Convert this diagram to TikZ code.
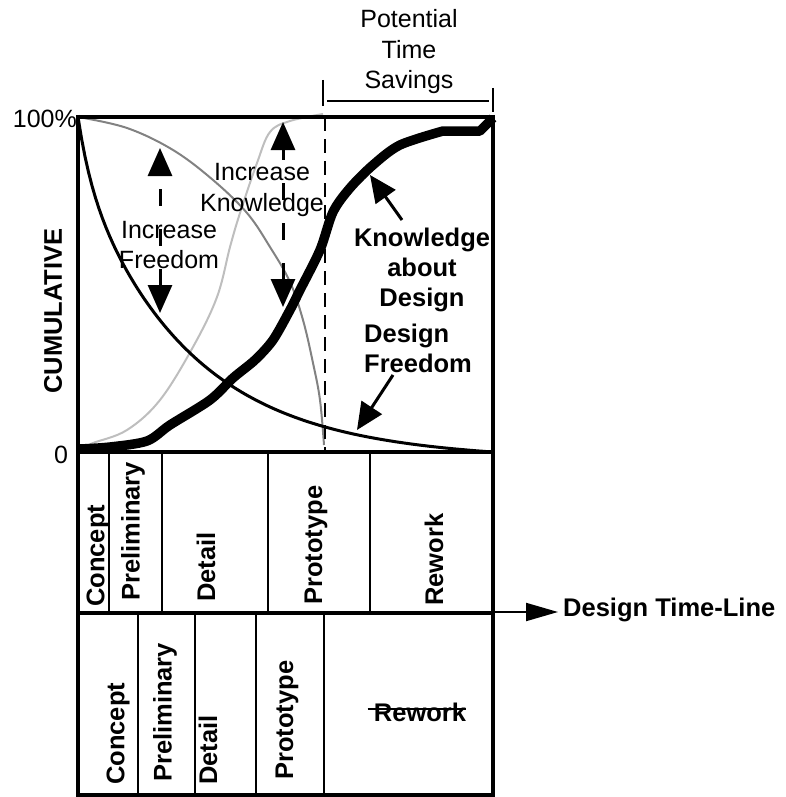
\documentclass[tikz,border=0pt]{standalone}
\usepackage{fontspec}
\setmainfont{Liberation Sans}
\usetikzlibrary{arrows.meta}
\definecolor{midgray}{RGB}{130,130,130}
\definecolor{lightgray}{RGB}{190,190,190}
\begin{document}
\begin{tikzpicture}[x=1pt,y=-1pt,
  lbl/.style={inner sep=0pt,font=\fontsize{25}{30.5}\selectfont},
  blbl/.style={inner sep=0pt,font=\fontsize{25.5}{30}\selectfont\bfseries},
  vlbl/.style={blbl,rotate=90,anchor=west},
  frameline/.style={line width=4.5pt},
  divider/.style={line width=2.8pt},
  dblarrow/.style={line width=3pt,dash pattern=on 17pt off 23pt,{Triangle[length=28pt,width=24pt]}-{Triangle[length=28pt,width=24pt]}},
  pointer/.style={line width=3pt,-{Triangle[length=27pt,width=24pt]}}
]
\useasboundingbox (0,0) rectangle (786,797);

% curves
\draw[midgray,line width=2pt] plot[smooth,tension=0.6] coordinates {
  (78,117) (127,128) (173,150) (213,180) (247,213) (270,247) (290,282)
  (303,320) (313,363) (320,400) (324,445)};
\draw[lightgray,line width=2pt] plot[smooth,tension=0.6] coordinates {
  (82,448) (93,443) (127,430) (160,400) (193,347) (217,297) (230,247)
  (240,213) (257,163) (270,132) (290,121) (323,114)};
% design freedom: decays from 100% to 0
\draw[line width=3pt] plot[domain=0:415,samples=120]
  ({78+\x},{452-335*(0.15*exp(-0.08*\x)+0.85*exp(-0.0093*\x)-0.018*\x/415)});
% knowledge about design
\draw[line width=9.5pt,line join=round] plot[smooth,tension=0.5] coordinates {
  (80,449) (110,447) (147,441) (170,425) (210,400) (233,378) (255,360)
  (273,340) (290,310) (300,290) (320,250) (333,212) (350,188) (373,165)
  (400,145) (443,131)} -- (480,131) -- (493,118);

% time savings marker
\draw[line width=2.5pt,dash pattern=on 14pt off 8pt] (325,117) -- (325,452);
\draw[line width=2.5pt] (323,80) -- (323,106);
\draw[line width=2.5pt] (327,101) -- (489,101);
\draw[line width=2.5pt] (493,88) -- (493,112);

% frame and phase tables
\draw[frameline] (78,117) -- (493,117);
\draw[frameline] (78,115) -- (78,797);
\draw[frameline] (493,115) -- (493,797);
\draw[frameline] (76,452) -- (495,452);
\draw[frameline] (76,613) -- (495,613);
\draw[frameline] (76,795) -- (495,795);
\foreach \xx in {109,162,268,370} \draw[divider] (\xx,452) -- (\xx,613);
\foreach \xx in {138,195,256,324} \draw[divider] (\xx,613) -- (\xx,793);

% axis labels
\node[blbl,rotate=90] (cum) at (53,311) {CUMULATIVE};
\node[lbl,anchor=east] (hund) at (77,119) {100\%};
\node[lbl] (zero) at (61,455) {0};

% top bracket label
\node[lbl,align=center] (pts) at (409,52) {Potential\\Time\\Savings};

% increase arrows
\coordinate (fup) at (160,148);
\coordinate (fdn) at (160,313);
\coordinate (kup) at (283,122);
\coordinate (kdn) at (283,307);
\draw[dblarrow] (fdn) -- (fup);
\draw[dblarrow] (kdn) -- (kup);
\node[lbl,align=center] (incf) at (169,245) {Increase\\Freedom};
\node[lbl,align=center] (inck) at (262,190) {Increase\\Knowledge};

% curve labels
\node[blbl,align=center] (kad) at (422,270) {Knowledge\\about\\Design};
\node[blbl,align=left,anchor=west] (dfr) at (364,348) {Design\\Freedom};
\coordinate (kcurve) at (370,175);
\coordinate (fcurve) at (357,430);
\draw[pointer] (402,220) -- (kcurve);
\draw[pointer] (393,375) -- (fcurve);

% planned phases
\node[vlbl] (c1) at (98,607) {Concept};
\node[vlbl] (p1) at (133,601) {Preliminary};
\node[vlbl] (d1) at (206,602) {Detail};
\node[vlbl] (t1) at (316,605) {Prototype};
\node[vlbl] (r1) at (434,606) {Rework};

% compressed phases
\node[vlbl] (c2) at (118,785) {Concept};
\node[vlbl] (p2) at (165,782) {Preliminary};
\node[vlbl] (d2) at (208,785) {Detail};
\node[vlbl] (t2) at (287,780) {Prototype};
\node[blbl] (r2) at (420,712) {Rework};
\draw[line width=1.4pt] ([xshift=-6pt,yshift=3pt]r2.west) -- ([yshift=3pt]r2.east);

% time line
\coordinate (tlstart) at (493,612);
\node[blbl,anchor=west] (dtl) at (563,610) {Design Time-Line};
\draw[line width=2pt,-{Triangle[length=32pt,width=18pt]}] (tlstart) -- ([xshift=-5pt]dtl.west |- tlstart);
\end{tikzpicture}
\end{document}
